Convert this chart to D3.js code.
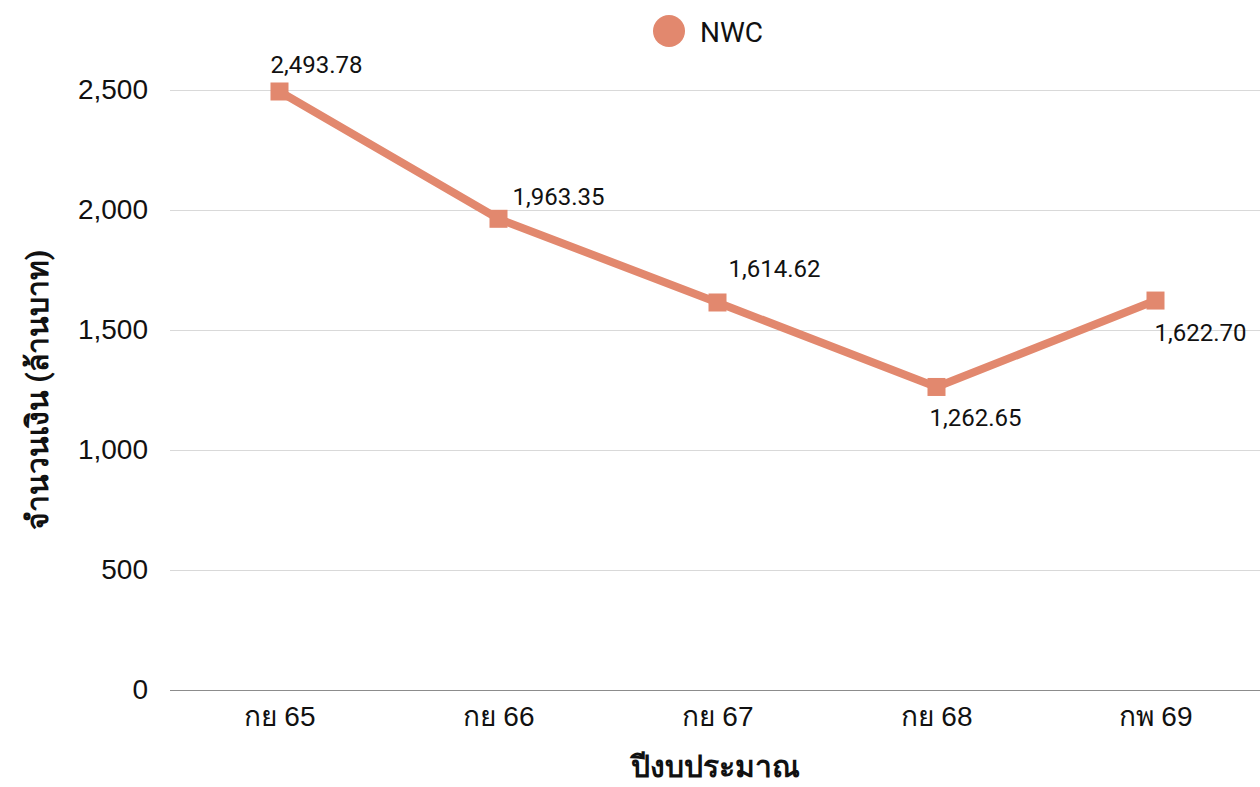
<!DOCTYPE html>
<html>
<head>
<meta charset="utf-8">
<script src="https://cdn.jsdelivr.net/npm/d3@7"></script>
<style>
  html, body { margin: 0; padding: 0; background: #fff; }
  svg { display: block; font-family: Roboto, "Noto Sans", sans-serif; }
</style>
</head>
<body>
<svg id="chart"></svg>
<script>
const categories = ['กย 65', 'กย 66', 'กย 67', 'กย 68', 'กพ 69'];
const nwcValues = [2493.78, 1963.35, 1614.62, 1262.65, 1622.70];
const yTicks = [0, 500, 1000, 1500, 2000, 2500];
const seriesName = 'NWC';
// label placement relative to each point (dx, dy, anchor)
const labelOffsets = [[-9, -18, 'start'], [14, -14, 'start'], [11, -25, 'start'], [-7, 39, 'start'], [-1, 40, 'start']];

const width = 1260, height = 787;
const margin = {top: 90, right: 0, bottom: 97, left: 170};
const color = '#e2886e';

const svg = d3.select('#chart')
  .attr('width', width)
  .attr('height', height);

const x = d3.scaleBand()
  .domain(categories)
  .range([margin.left, margin.left + 219 * 5])
  .padding(0);

const y = d3.scaleLinear()
  .domain([0, 2500])
  .range([height - margin.bottom, margin.top]);

// gridlines + y labels
const yAxis = svg.append('g')
  .attr('transform', `translate(${margin.left},0)`)
  .call(d3.axisLeft(y).tickValues(yTicks).tickFormat(d3.format(',')).tickSize(-(width - margin.left)).tickPadding(22))
  .call(g => g.select('.domain').remove());
yAxis.selectAll('.tick line')
  .attr('stroke', d => d === 0 ? '#8c8c8c' : '#d9d9d9')
  .attr('stroke-width', 1);
yAxis.selectAll('.tick text')
  .attr('fill', '#111')
  .attr('font-size', 28);

// x labels
svg.append('g')
  .attr('transform', `translate(0,${height - margin.bottom})`)
  .call(d3.axisBottom(x).tickSize(0).tickPadding(16))
  .call(g => g.select('.domain').remove())
  .selectAll('text')
  .attr('fill', '#111')
  .attr('font-size', 28);

const cx = d => x(d) + x.bandwidth() / 2;

const line = d3.line()
  .x((d, i) => cx(categories[i]))
  .y(d => y(d));

svg.append('path')
  .datum(nwcValues)
  .attr('fill', 'none')
  .attr('stroke', color)
  .attr('stroke-width', 8)
  .attr('stroke-linejoin', 'round')
  .attr('d', line);

svg.append('g')
  .selectAll('rect')
  .data(nwcValues)
  .join('rect')
  .attr('x', (d, i) => cx(categories[i]) - 9)
  .attr('y', d => y(d) - 9)
  .attr('width', 18)
  .attr('height', 18)
  .attr('fill', color);

svg.append('g')
  .selectAll('text')
  .data(nwcValues)
  .join('text')
  .attr('x', (d, i) => cx(categories[i]) + labelOffsets[i][0])
  .attr('y', (d, i) => y(d) + labelOffsets[i][1])
  .attr('text-anchor', (d, i) => labelOffsets[i][2])
  .attr('font-size', 24)
  .attr('fill', '#111')
  .text(d => d3.format(',.2f')(d));

// legend
const legend = svg.append('g').attr('transform', 'translate(669,31)');
legend.append('circle').attr('r', 16).attr('fill', color);
legend.append('text')
  .attr('x', 31)
  .attr('y', 11)
  .attr('font-size', 28)
  .attr('fill', '#111')
  .text(seriesName);

// axis titles
svg.append('text')
  .attr('x', 715)
  .attr('y', 777)
  .attr('text-anchor', 'middle')
  .attr('font-size', 30)
  .attr('font-weight', 'bold')
  .attr('fill', '#111')
  .text('ปีงบประมาณ');

svg.append('text')
  .attr('transform', 'translate(48,390) rotate(-90)')
  .attr('text-anchor', 'middle')
  .attr('font-size', 30)
  .attr('font-weight', 'bold')
  .attr('fill', '#111')
  .text('จำนวนเงิน (ล้านบาท)');
</script>
</body>
</html>
